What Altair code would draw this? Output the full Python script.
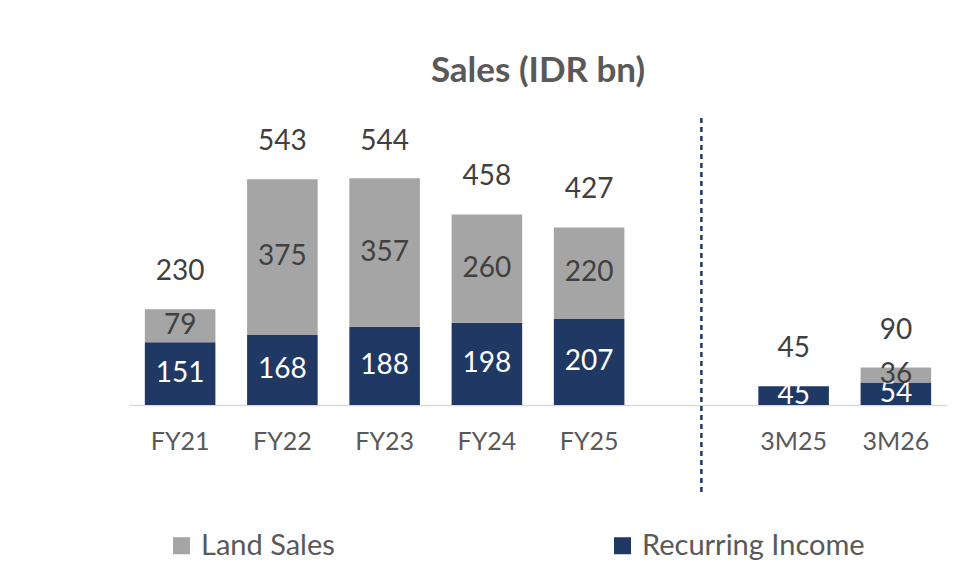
import altair as alt
import pandas as pd

categories = ["FY21", "FY22", "FY23", "FY24", "FY25", " ", "3M25", "3M26"]
bar_categories = ["FY21", "FY22", "FY23", "FY24", "FY25", "3M25", "3M26"]
recurring_income = [151, 168, 188, 198, 207, 45, 54]
land_sales = [79, 375, 357, 260, 220, 0, 36]
totals = [230, 543, 544, 458, 427, 45, 90]
series = ["Land Sales", "Recurring Income"]
colors = ["#A5A5A5", "#1F3864"]
divider = [" "]

rows = []
for c, r, l in zip(bar_categories, recurring_income, land_sales):
    rows.append({"cat": c, "series": "Recurring Income", "value": r, "ord": 0})
    rows.append({"cat": c, "series": "Land Sales", "value": l, "ord": 1})
df = pd.DataFrame(rows)
tot_df = pd.DataFrame({"cat": bar_categories, "total": totals})
div_df = pd.DataFrame({"cat": divider})

FONT = "Lato"
xscale = alt.Scale(domain=categories, paddingInner=0.31, paddingOuter=0.155)
yscale = alt.Scale(domain=[0, 690])
xaxis = alt.Axis(title=None, labelFont=FONT, labelFontSize=25, labelColor="#595959",
                 labelPadding=24, ticks=False, domainColor="#D9D9D9", domainWidth=1.5,
                 labelAngle=0)

bars = alt.Chart(df).mark_bar().encode(
    x=alt.X("cat:N", scale=xscale, axis=xaxis),
    y=alt.Y("value:Q", stack="zero", scale=yscale, axis=None),
    color=alt.Color("series:N", scale=alt.Scale(domain=series, range=colors),
                    legend=alt.Legend(title=None, orient="none", legendX=38, legendY=413,
                                      direction="horizontal", labelFont=FONT,
                                      labelFontSize=29, labelColor="#595959",
                                      symbolType="square", symbolSize=289,
                                      symbolStrokeWidth=0, columnPadding=273,
                                      labelOffset=5, labelLimit=400)),
    order=alt.Order("ord:Q", sort="ascending"),
)

seg_labels = alt.Chart(df).transform_stack(
    stack="value", groupby=["cat"], sort=[alt.SortField("ord", order="ascending")],
    as_=["v0", "v1"]
).transform_calculate(
    mid="(datum.v0 + datum.v1) / 2"
).transform_filter(
    "datum.value > 0"
).mark_text(font=FONT, fontSize=28, baseline="middle").encode(
    x=alt.X("cat:N", scale=xscale),
    y=alt.Y("mid:Q", scale=yscale),
    text=alt.Text("value:Q"),
    color=alt.condition("datum.series == 'Recurring Income'", alt.value("white"), alt.value("#404040")),
)

tot_labels = alt.Chart(tot_df).mark_text(font=FONT, fontSize=28, baseline="middle", dy=-37,
                                         color="#404040").encode(
    x=alt.X("cat:N", scale=xscale),
    y=alt.Y("total:Q", scale=yscale),
    text=alt.Text("total:Q"),
)

rule = alt.Chart(div_df).mark_rule(strokeDash=[5, 4], strokeWidth=2.5, color="#1F3864",
                                   xOffset=10).encode(
    x=alt.X("cat:N", scale=xscale),
    y=alt.value(0),
    y2=alt.value(374),
)

chart = alt.layer(bars, seg_labels, tot_labels, rule).properties(
    width=818, height=287,
    title=alt.TitleParams("Sales (IDR bn)", font=FONT, fontSize=35, fontWeight="bold",
                          color="#595959", anchor="middle", offset=28),
    autosize=alt.AutoSizeParams(type="none"),
    padding={"left": 121, "top": 110, "right": 10, "bottom": 160},
).configure_view(stroke=None)

chart.save("out.html", embed_options={"renderer": "svg", "actions": False})
